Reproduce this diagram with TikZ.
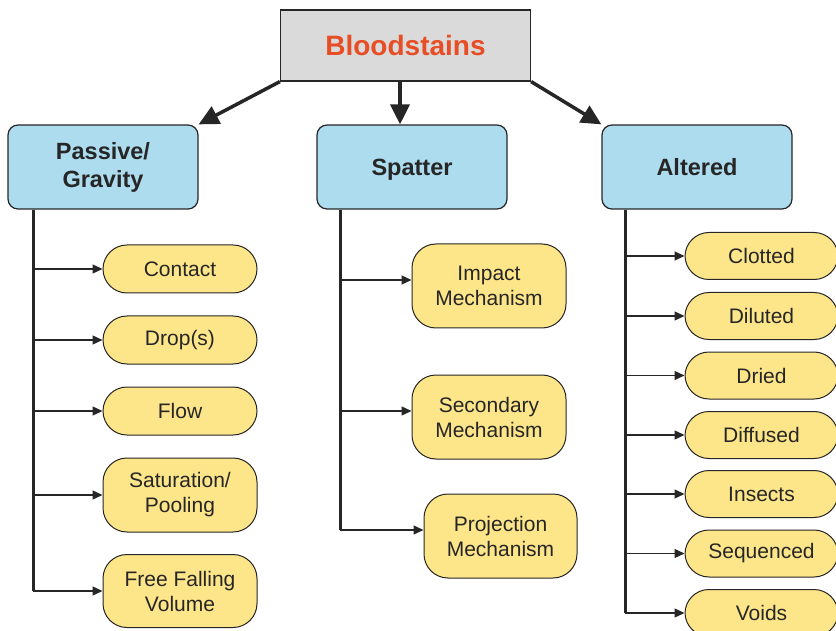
\documentclass[tikz,border=0pt]{standalone}
\usepackage{fontspec}
\setmainfont{Liberation Sans}
\usetikzlibrary{arrows.meta}

\definecolor{boxgray}{HTML}{DADADA}
\definecolor{catblue}{HTML}{ADDCEF}
\definecolor{leafyellow}{HTML}{FDE58A}
\definecolor{titlered}{HTML}{E84E25}
\definecolor{edgegray}{HTML}{262626}

\tikzset{
    titlebox/.style={draw=edgegray, line width=1.2pt, fill=boxgray, minimum width=250pt, minimum height=71pt, inner sep=0pt,
        font=\fontsize{28}{32}\selectfont\bfseries, text=titlered},
    catbox/.style={draw=edgegray, line width=1.2pt, fill=catblue, rounded corners=10pt, minimum width=190pt, minimum height=84pt,
        inner sep=0pt, align=center, font=\fontsize{23.5}{28}\selectfont\bfseries, text=edgegray},
    leafbox/.style={draw=edgegray, line width=1pt, fill=leafyellow, rounded corners=24pt, minimum width=154pt, minimum height=48pt,
        inner sep=0pt, align=center, font=\fontsize{21}{25}\selectfont, text=edgegray},
    mainarrow/.style={draw=edgegray, line width=3.5pt, -{Triangle[length=20pt,width=19pt]}},
    trunk/.style={draw=edgegray, line width=3pt},
    branch/.style={draw=edgegray, line width=1.3pt, -{Triangle[length=10pt,width=9pt]}}
}

\begin{document}
\begin{tikzpicture}[x=1pt, y=-1pt]

        \useasboundingbox (0,0) rectangle (836,631);
        \clip (0,0) rectangle (836,631);

        % top

        \node[titlebox, text depth=0pt] (title) at (405.5,45.5) {Bloodstains};

        \node[catbox] (passive) at (103,167) {Passive/\\Gravity};
        \node[catbox, text depth=0pt] (spatter) at (412,167) {Spatter};
        \node[catbox] (altered) at (697,167) {Altered};

        \coordinate (midx) at (400,0);

        \draw[mainarrow] (title.south west) -- (passive.north east);
        \draw[mainarrow] (title.south -| midx) -- (spatter.north -| midx);
        \draw[mainarrow] (title.south east) -- (altered.north west);

        % passive / gravity

        \node[leafbox] (contact) at (180,269) {Contact};
        \node[leafbox] (drops) at (180,340) {Drop(s)};
        \node[leafbox] (flow) at (180,411) {Flow};
        \node[leafbox, minimum height=74pt] (pooling) at (180,495) {Saturation/\\Pooling};
        \node[leafbox, minimum height=73pt] (falling) at (180,591) {Free Falling\\Volume};

        \coordinate (lx) at (33,0);
        \draw[trunk] (passive.south -| lx) -- (falling.west -| lx);
        \foreach \leaf in {contact, drops, flow, pooling, falling}
            \draw[branch] (\leaf.west -| lx) -- (\leaf.west);

        % spatter

        \node[leafbox, minimum height=84pt] (impact) at (489,286) {Impact\\Mechanism};
        \node[leafbox, minimum height=84pt] (secondary) at (489,417) {Secondary\\Mechanism};
        \node[leafbox, minimum height=84pt, minimum width=153pt] (projection) at (500.5,536) {Projection\\Mechanism};

        \coordinate (mx) at (340,0);
        \draw[trunk] (spatter.south -| mx) -- ([yshift=6pt]projection.west -| mx);
        \foreach \leaf in {impact, secondary, projection}
            \draw[branch] ([yshift=6pt]\leaf.west -| mx) -- ([yshift=6pt]\leaf.west);

        % altered

        \node[leafbox, minimum width=153pt, minimum height=47pt] (clotted) at (761.5,256) {Clotted};
        \node[leafbox, minimum width=153pt, minimum height=47pt] (diluted) at (761.5,316) {Diluted};
        \node[leafbox, minimum width=153pt, minimum height=47pt] (dried) at (761.5,375.5) {Dried};
        \node[leafbox, minimum width=153pt, minimum height=47pt] (diffused) at (761.5,435) {Diffused};
        \node[leafbox, minimum width=153pt, minimum height=47pt] (insects) at (761.5,494) {Insects};
        \node[leafbox, minimum width=153pt, minimum height=47pt] (sequenced) at (761.5,553.5) {Sequenced};
        \node[leafbox, minimum width=153pt, minimum height=47pt] (voids) at (761.5,613) {Voids};

        \coordinate (rx) at (625,0);
        \draw[trunk] (altered.south -| rx) -- (voids.west -| rx);
        \foreach \leaf in {clotted, diluted, dried, diffused, insects, sequenced, voids}
            \draw[branch] (\leaf.west -| rx) -- (\leaf.west);

    \end{tikzpicture}
\end{document}
